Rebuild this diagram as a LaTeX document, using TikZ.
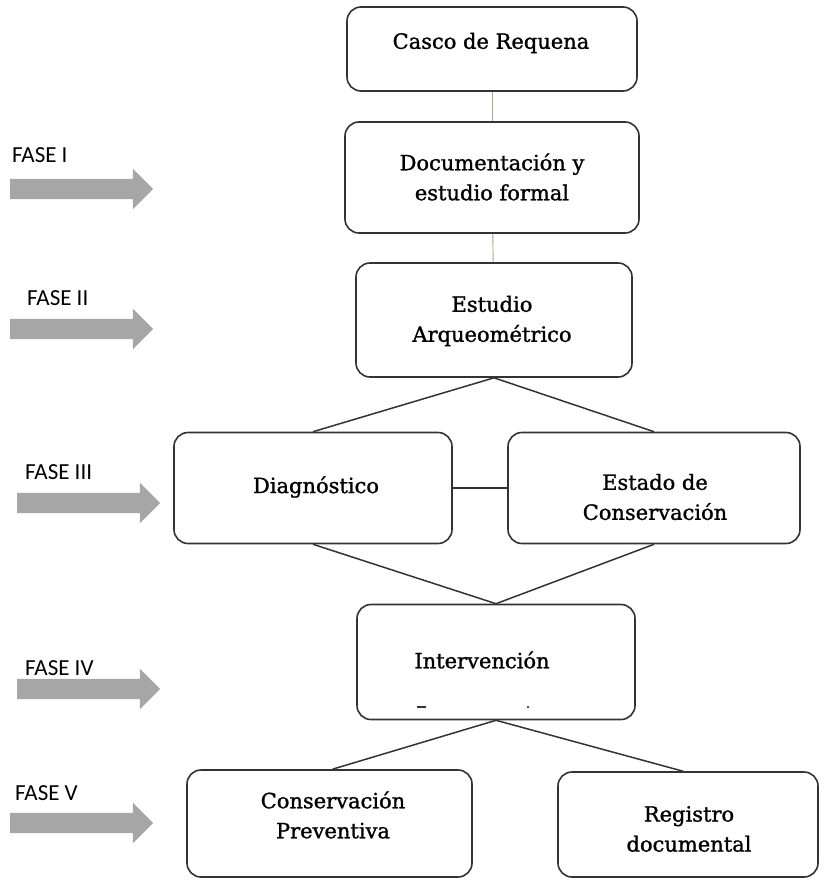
\documentclass[tikz,border=0pt]{standalone}
\usepackage{fontspec}
\setmainfont{DejaVu Serif}[UprightFeatures={FakeBold=1.2}]
\newfontfamily\fasefont{Carlito}
\usepackage{xcolor}
\usetikzlibrary{positioning, calc, shapes.arrows}
\definecolor{ink}{HTML}{333333}
\definecolor{olive}{HTML}{A3AC86}
\definecolor{bar}{HTML}{A6A6A6}

\begin{document}
\begin{tikzpicture}[x=1pt, y=-1pt,
  paso/.style={draw=ink, line width=1.6pt, rounded corners=14pt, fill=white,
               minimum width=#1, inner sep=0pt},
  paso/.default=280pt,
  rotulo/.style={align=center, inner sep=0pt, font=\fontsize{21}{30}\selectfont},
  enlace/.style={draw=ink, line width=1.5pt},
  guia/.style={draw=olive, line width=0.9pt},
  flecha/.style={single arrow, fill=bar, draw=none, minimum width=40pt,
                 minimum height=143pt, single arrow head extend=10pt,
                 inner xsep=0pt, inner ysep=10pt},
  fase/.style={font=\fasefont\fontsize{23}{26}\selectfont, anchor=base west, inner sep=0pt}
]
  \useasboundingbox (0,0) rectangle (830,880);

  % fases
  \node[fase] (f1) at (12,162) {FASE I};
  \node[flecha] (a1) at (76.5,189) {};
  \node[fase] (f2) at (27,305) {FASE II};
  \node[flecha] (a2) at (76.5,329) {};
  \node[fase] (f3) at (25,479) {FASE III};
  \node[flecha] (a3) at (83.5,503) {};
  \node[fase] (f4) at (25,675) {FASE IV};
  \node[flecha] (a4) at (83.5,689) {};
  \node[fase] (f5) at (15,800) {FASE V};
  \node[flecha] (a5) at (76.5,823) {};

  % cajas
  \node[paso=290pt, minimum height=84pt] (casco) at (492,49) {};
  \node[rotulo] (tcasco) at (491,43) {Casco de Requena};
  \node[paso=294pt, minimum height=111pt] (doc) at (492,177.5) {};
  \node[rotulo] (tdoc) at (492,177) {Documentación y\\estudio formal};
  \node[paso=276pt, minimum height=114pt] (arq) at (494,320) {};
  \node[rotulo] (tarq) at (492,321) {Estudio\\Arqueométrico};
  \node[paso=278pt, minimum height=111pt] (diag) at (313,488) {};
  \node[rotulo] (tdiag) at (316,487) {Diagnóstico};
  \node[paso=292pt, minimum height=111pt] (est) at (654,488) {};
  \node[rotulo] (test) at (655,497) {Estado de\\Conservación};
  \node[paso=278pt, minimum height=115pt] (int) at (496,662) {};
  \node[rotulo] (tint) at (482,660) {Intervención};
  \node[fill=ink, minimum width=9pt, minimum height=2.5pt, inner sep=0pt] (guion) at (421,707) {};
  \node[fill=ink, circle, minimum size=2.5pt, inner sep=0pt] (punto) at (528,707) {};
  \node[paso=285pt, minimum height=107pt] (prev) at (329.5,823.5) {};
  \node[rotulo] (tprev) at (333,815) {Conservación\\Preventiva};
  \node[paso=260pt, minimum height=105pt] (reg) at (688,824.5) {};
  \node[rotulo] (treg) at (689,829) {Registro\\documental};

  % enlaces
  \draw[guia] (casco) -- (doc);
  \draw[guia] (doc) -- (arq);
  \draw[enlace] (arq.south) -- (diag.north);
  \draw[enlace] (arq.south) -- (est.north);
  \draw[enlace] (diag) -- (est);
  \draw[enlace] (diag.south) -- (int.north);
  \draw[enlace] (est.south) -- (int.north);
  \draw[enlace] (int.south) -- ($(prev.north)+(3,0)$);
  \draw[enlace] (int.south) -- ($(reg.north)+(-5,0)$);
\end{tikzpicture}
\end{document}
